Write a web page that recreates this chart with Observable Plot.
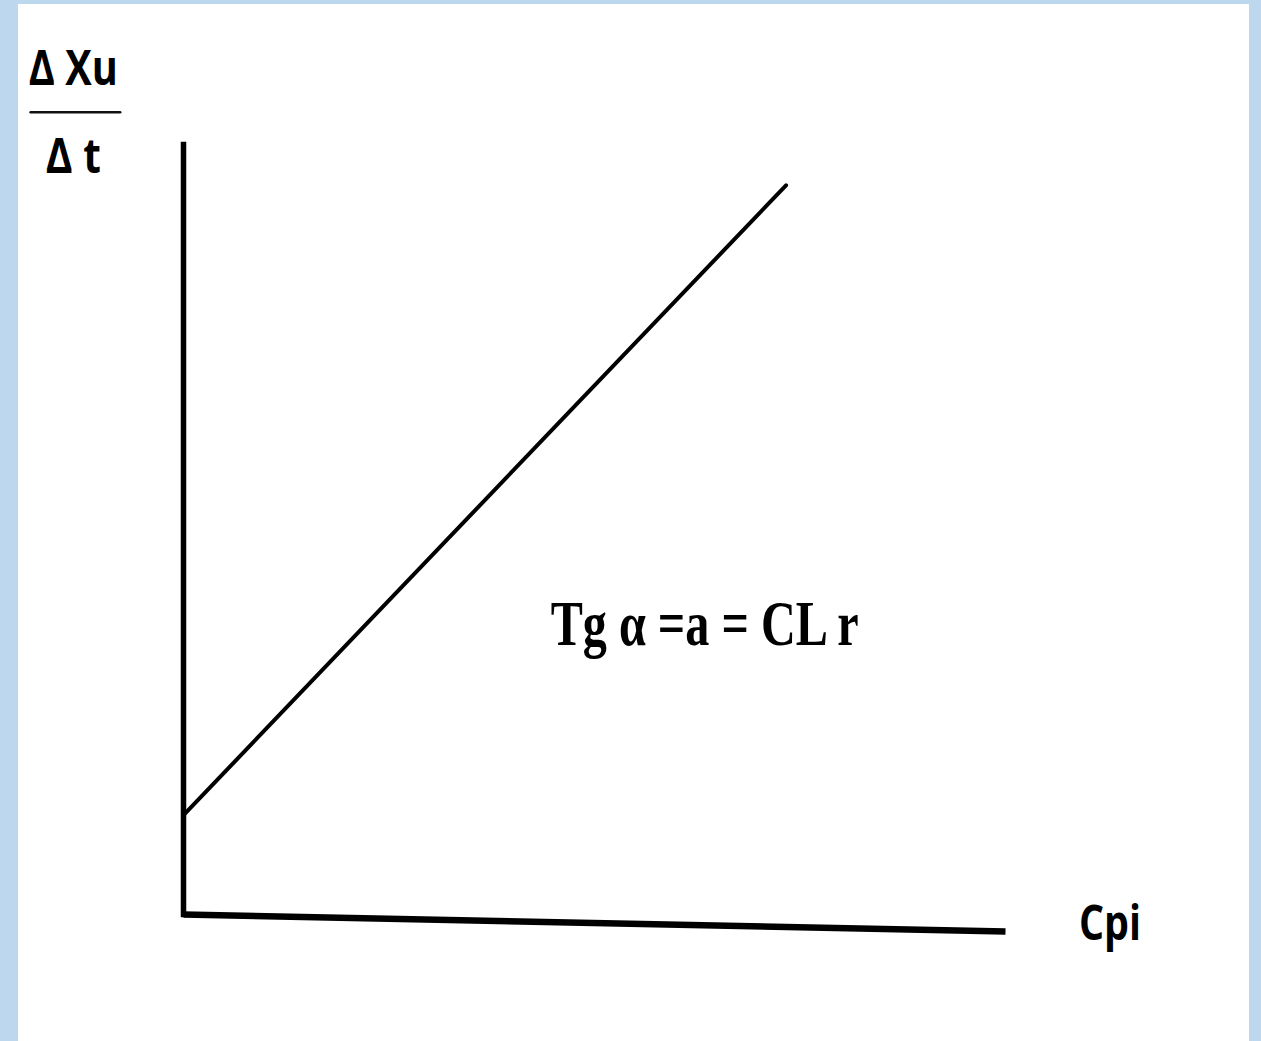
<!DOCTYPE html>
<html><head><meta charset="utf-8">
<script src="https://cdn.jsdelivr.net/npm/d3@7"></script>
<script src="https://cdn.jsdelivr.net/npm/@observablehq/plot@0.6"></script>
<style>
html,body{margin:0;padding:0;background:#bdd7ee;width:1261px;height:1041px;overflow:hidden}
#frame{position:absolute;left:18px;top:4px;width:1231px;height:1037px;background:#fff}
</style></head><body><div id="frame"></div>
<script>
// Data (abstract units: x = Cpi, y = ΔXu/Δt)
const yAxisLine = [{x: 0, y: 0}, {x: 0, y: 100}];
const xAxisLine = [{x: 0, y: 0}, {x: 100, y: -2.2}];
const relation = [{x: 0, y: 12.9}, {x: 73.3, y: 94.7}];
const fractionBar = [{x: -18.6, y: 104.2}, {x: -7.7, y: 104.2}];
const numeratorLabel = ["Δ Xu"];
const denominatorLabel = ["Δ t"];
const xLabel = ["Cpi"];
const formulaLabel = ["Tg α =a = CL r"];

const sans = "'Open Sans', 'Noto Sans', sans-serif";
const serif = "'Liberation Serif', 'DejaVu Serif', serif";

const chart = Plot.plot({
  width: 1231,
  height: 1037,
  margin: 0,
  style: {background: "#fff", overflow: "visible"},
  x: {domain: [0, 100], range: [165, 987], axis: null},
  y: {domain: [0, 100], range: [910, 140], axis: null},
  marks: [
    Plot.line(yAxisLine, {x: "x", y: "y", stroke: "#000", strokeWidth: 5.5, strokeLinecap: "square"}),
    Plot.line(xAxisLine, {x: "x", y: "y", stroke: "#000", strokeWidth: 6.5, strokeLinecap: "butt"}),
    Plot.line(relation, {x: "x", y: "y", stroke: "#000", strokeWidth: 4}),
    Plot.line(fractionBar, {x: "x", y: "y", stroke: "#111", strokeWidth: 2.5}),
    Plot.text(numeratorLabel, {text: d => d, x: () => -13.4, y: () => 109.7, fontFamily: sans, fontWeight: "bold", fontSize: 49, fill: "#000"}),
    Plot.text(denominatorLabel, {text: d => d, x: () => -13.4, y: () => 98.4, fontFamily: sans, fontWeight: "bold", fontSize: 49, fill: "#000"}),
    Plot.text(xLabel, {text: d => d, x: () => 112.7, y: () => -1.3, fontFamily: sans, fontWeight: "bold", fontSize: 49, fill: "#000"}),
    Plot.text(formulaLabel, {text: d => d, x: () => 63.4, y: () => 37.6, fontFamily: serif, fontWeight: "bold", fontSize: 64, fill: "#000"})
  ]
});

// Condense the labels to the narrow look of the original fonts
const widths = {"Δ Xu": 89, "Δ t": 55, "Cpi": 62, "Tg α =a = CL r": 308};
chart.querySelectorAll("text").forEach(t => {
  const w = widths[t.textContent];
  if (w) { t.setAttribute("textLength", w); t.setAttribute("lengthAdjust", "spacingAndGlyphs"); }
});
document.getElementById("frame").appendChild(chart);
</script>
</body></html>
